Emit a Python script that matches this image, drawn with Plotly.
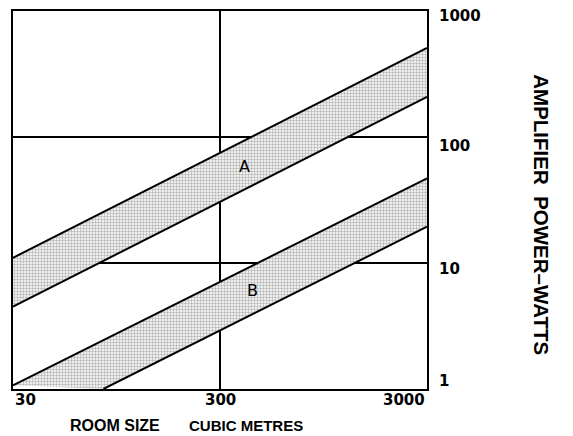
import math
import plotly.graph_objects as go

# ---- data ----
room_size = [30, 3000]                 # cubic metres
band_a_upper = [11, 510]               # watts
band_a_lower = [4.5, 208]
band_b_upper_x = [30, 3000]
band_b_upper = [1.07, 47]
band_b_lower_x = [82, 3000]
band_b_lower = [1, 19.4]

x_ticks = [30, 300, 3000]
x_tick_labels = ["30", "300", "3000"]
y_ticks = [1, 10, 100, 1000]
y_tick_labels = ["1", "10", "100", "1000"]

band_labels = ["A", "B"]
band_label_x = [396, 433]
band_label_y = [58, 6.1]

x_title_parts = ["ROOM SIZE", "CUBIC METRES"]
y_title = "AMPLIFIER  POWER\u2013WATTS"

# ---- figure ----
line_style = dict(color="black", width=2)
pattern = dict(shape=".", bgcolor="white", fgcolor="#6e6e6e", size=3, solidity=0.5)

fig = go.Figure()
fig.add_trace(go.Scatter(x=room_size, y=band_a_lower, mode="lines", line=line_style,
                         hoverinfo="skip", showlegend=False))
fig.add_trace(go.Scatter(x=room_size, y=band_a_upper, mode="lines", line=line_style,
                         fill="tonexty", fillpattern=pattern, fillcolor="white",
                         hoverinfo="skip", showlegend=False))
fig.add_trace(go.Scatter(x=band_b_lower_x, y=band_b_lower, mode="lines", line=line_style,
                         hoverinfo="skip", showlegend=False))
fig.add_trace(go.Scatter(x=band_b_upper_x, y=band_b_upper, mode="lines", line=line_style,
                         fill="tonexty", fillpattern=pattern, fillcolor="white",
                         hoverinfo="skip", showlegend=False))

num_font = dict(family="DejaVu Sans", size=15, color="black", weight="bold")
txt_font = dict(family="Liberation Sans", size=16, color="black", weight="bold")
txt_font_small = dict(family="Liberation Sans", size=15, color="black", weight="bold")

annotations = []
x_anchors = ["left", "center", "right"]
for xv, lab, anc in zip(x_ticks, x_tick_labels, x_anchors):
    annotations.append(dict(x=math.log10(xv), y=0, xref="x", yref="paper", text=lab,
                            showarrow=False, xanchor=anc, yanchor="top",
                            font=num_font))
y_label_shifts = [8, -6, -9, -5]
for yv, lab, sh in zip(y_ticks, y_tick_labels, y_label_shifts):
    annotations.append(dict(x=1, y=math.log10(yv), xref="paper", yref="y", text=lab,
                            showarrow=False, xanchor="left", yanchor="middle",
                            xshift=10, yshift=sh, font=num_font))
for lab, xv, yv in zip(band_labels, band_label_x, band_label_y):
    annotations.append(dict(x=math.log10(xv), y=math.log10(yv), xref="x", yref="y",
                            text=lab, showarrow=False,
                            font=dict(family="DejaVu Sans", size=16, color="black")))
annotations.append(dict(x=0.133, y=-0.068, xref="paper", yref="paper", text=x_title_parts[0],
                        showarrow=False, xanchor="left", yanchor="top", font=txt_font))
annotations.append(dict(x=0.42, y=-0.068, xref="paper", yref="paper", text=x_title_parts[1],
                        showarrow=False, xanchor="left", yanchor="top", font=txt_font_small))
annotations.append(dict(x=1.31, y=0.46, xref="paper", yref="paper", text=y_title,
                        showarrow=False, textangle=90,
                        font=dict(family="Liberation Sans", size=20.5, color="black", weight="bold")))

# the page body adds an 8px offset, so the figure is sized to fill the window from there
fig.update_layout(
    width=565, height=428,
    margin=dict(l=5, r=146, t=3, b=47, autoexpand=False),
    paper_bgcolor="white", plot_bgcolor="white",
    annotations=annotations,
    xaxis=dict(type="log", range=[math.log10(30), math.log10(3000)],
               tickvals=x_ticks, showticklabels=False, ticks="", automargin=False,
               showgrid=True, gridcolor="black", gridwidth=1.5,
               showline=True, linecolor="black", linewidth=2, mirror=True,
               zeroline=False),
    yaxis=dict(type="log", range=[0, 3], side="right", automargin=False,
               tickvals=y_ticks, showticklabels=False, ticks="",
               showgrid=True, gridcolor="black", gridwidth=1.5,
               showline=True, linecolor="black", linewidth=2, mirror=True,
               zeroline=False),
)

fig.write_html("out.html")
